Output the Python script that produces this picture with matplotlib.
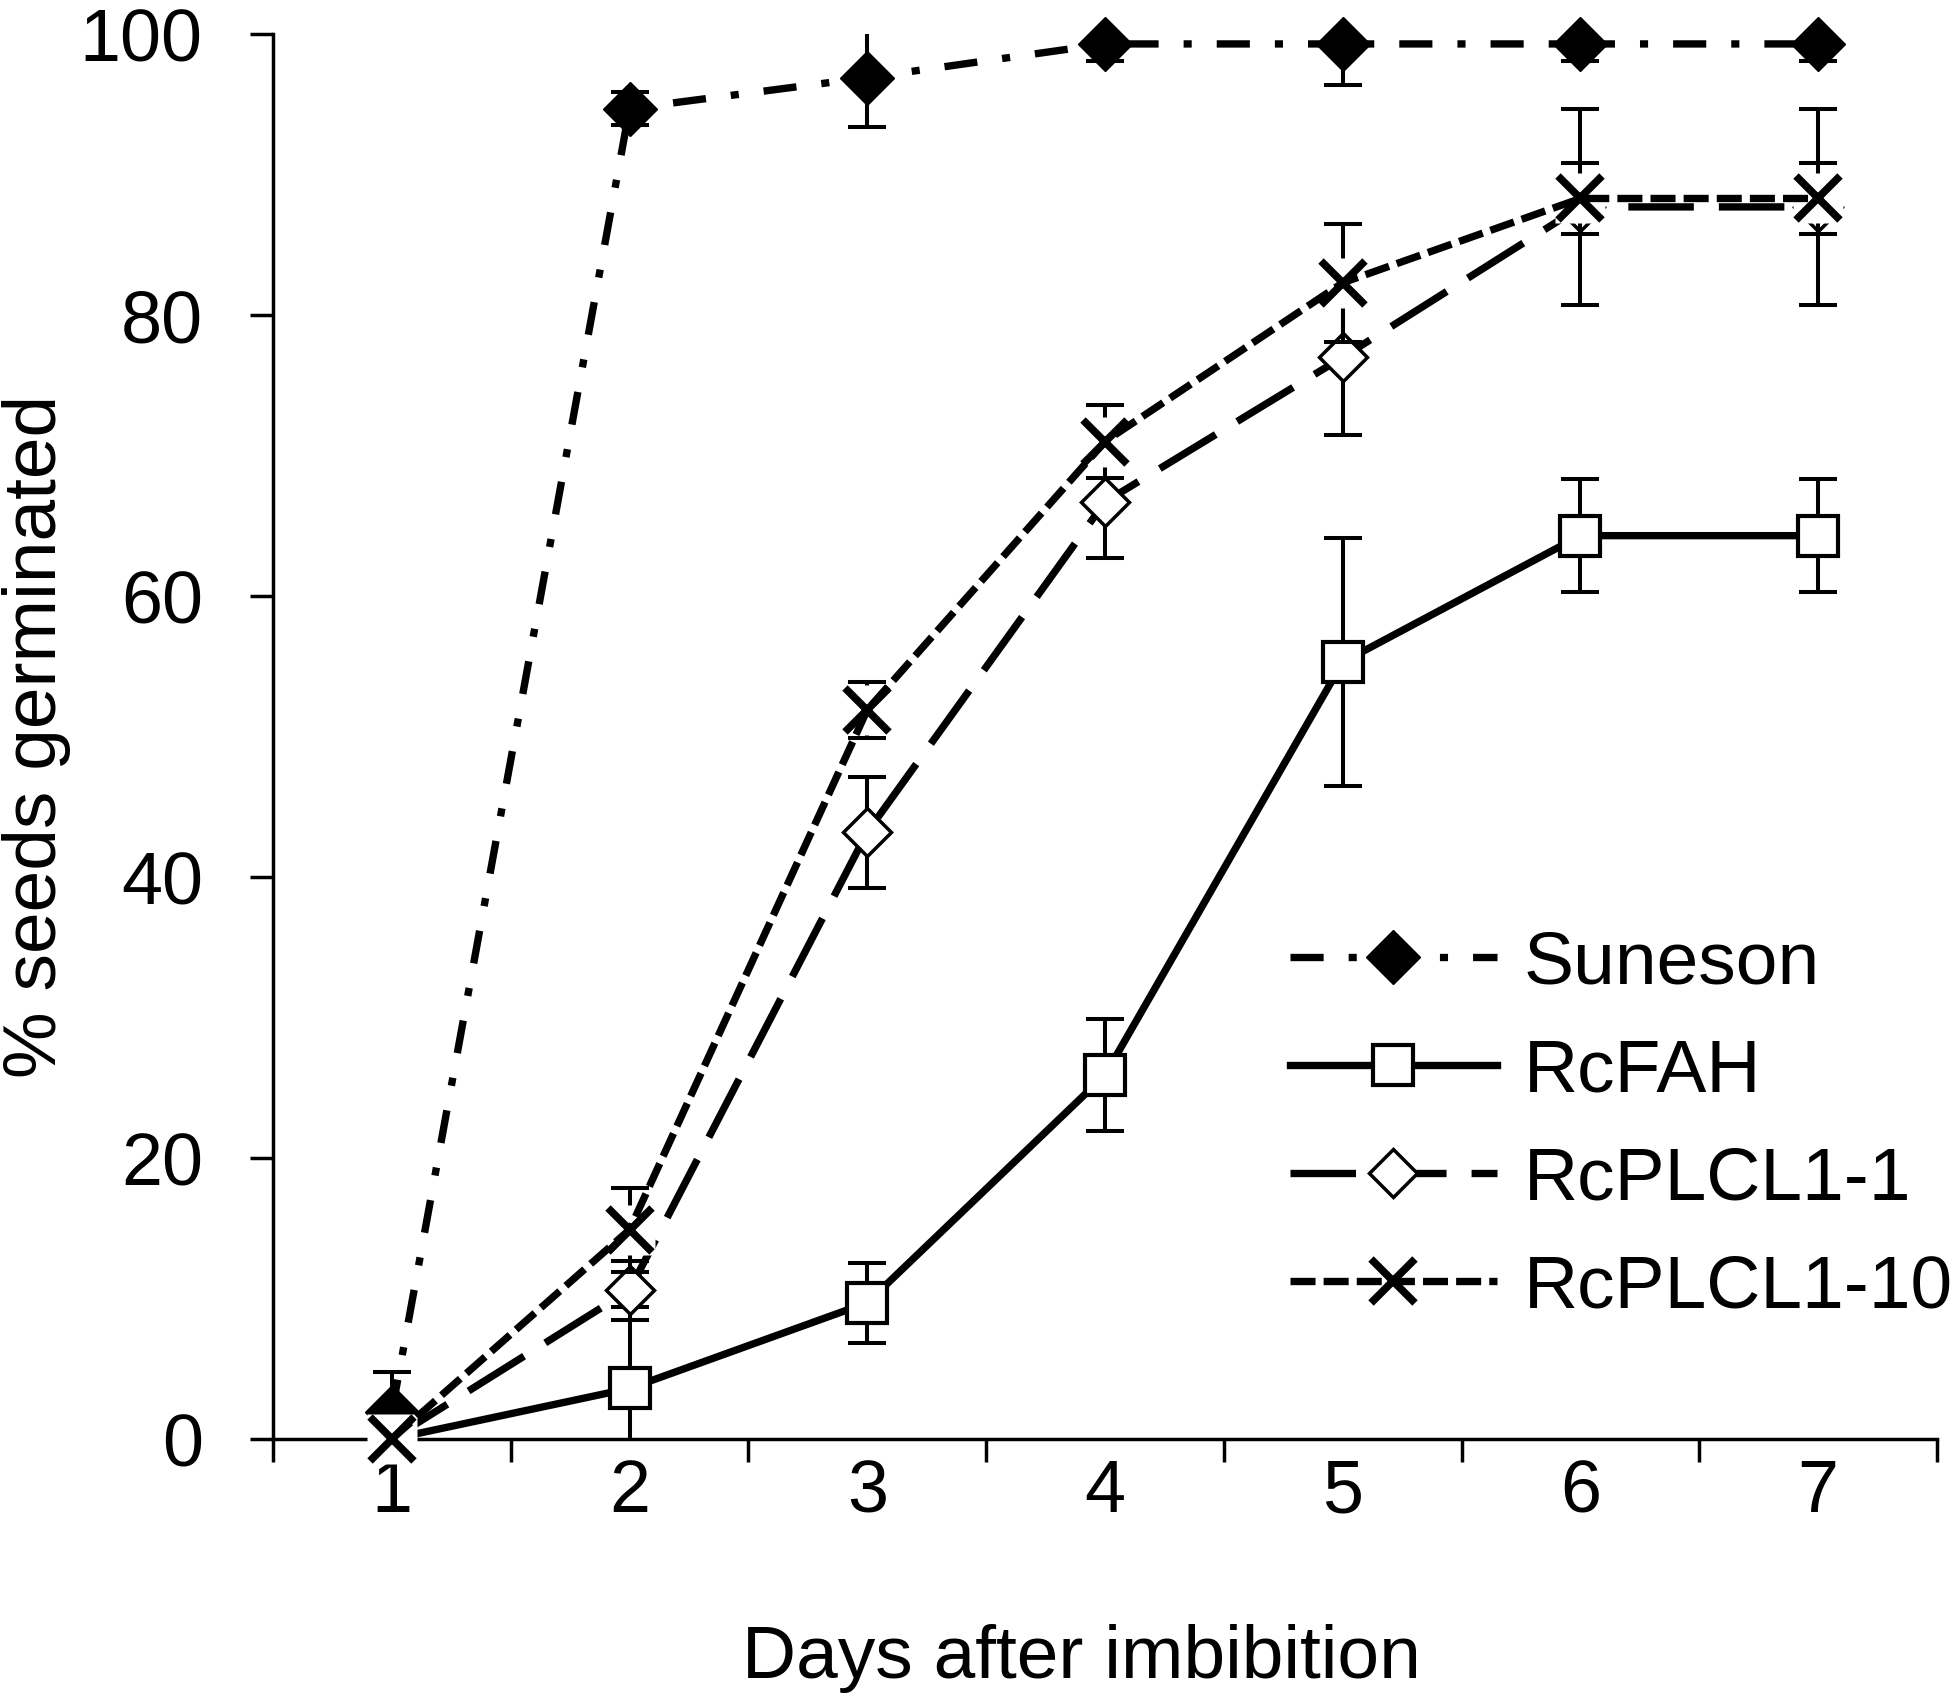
import matplotlib
matplotlib.use("Agg")
import matplotlib.pyplot as plt

plt.rcParams['font.family'] = ['Liberation Sans', 'DejaVu Sans']

days = [1, 2, 3, 4, 5, 6, 7]
series_names = ['Suneson', 'RcFAH', 'RcPLCL1-1', 'RcPLCL1-10']

suneson = [1.9, 94.7, 96.9, 99.3, 99.3, 99.3, 99.3]
suneson_err = [2.9, 1.15, 3.5, 1.2, 2.9, 1.2, 1.2]

rcfah = [0, 3.6, 9.7, 25.9, 55.3, 64.3, 64.3]
rcfah_err = [0, 5.8, 2.85, 4.0, 8.8, 4.0, 4.0]

plcl1_1 = [0, 10.6, 43.2, 66.7, 77.0, 87.7, 87.7]
plcl1_1_err = [0, 2.1, 3.95, 4.0, 5.5, 7.0, 7.0]

plcl1_10 = [0, 14.9, 51.9, 71.0, 82.3, 88.3, 88.3]
plcl1_10_err = [0, 3.0, 2.0, 2.6, 4.2, 2.5, 2.5]

fig = plt.figure(figsize=(19.58, 17.05), dpi=100)
ax = fig.add_axes([0.1394, 0.156, 0.8499, 0.824])

lw = 5.3
err_kw = dict(fmt='none', ecolor='black', elinewidth=2.9, capsize=13.5, capthick=2.9)

# Suneson
ax.errorbar(days, suneson, yerr=suneson_err, zorder=2, **err_kw)
ax.plot(days, suneson, color='black', lw=lw, ls=(0, (4.5, 3.4, 1.1, 3.4)),
        marker='D', ms=27, mfc='black', mec='black', mew=1,
        label=series_names[0], zorder=3, clip_on=False)

# RcFAH
ax.errorbar(days, rcfah, yerr=rcfah_err, zorder=4, **err_kw)
ax.plot(days, rcfah, color='black', lw=lw, ls='-',
        marker='s', ms=29, mfc='white', mec='black', mew=3,
        label=series_names[1], zorder=5, clip_on=False)

# RcPLCL1-1
ax.errorbar(days, plcl1_1, yerr=plcl1_1_err, zorder=6, **err_kw)
ax.plot(days, plcl1_1, color='black', lw=lw, ls=(0, (8.9, 3.4)),
        marker='D', ms=24, mfc='white', mec='black', mew=2.5,
        label=series_names[2], zorder=7, clip_on=False)

# RcPLCL1-10 (x markers sit on a white box, like the original)
ax.errorbar(days, plcl1_10, yerr=plcl1_10_err, zorder=8, **err_kw)
ax.plot(days, plcl1_10, ls='none', marker='s', ms=36, mfc='white', mec='none',
        zorder=8.5, clip_on=False)
ax.plot(days, plcl1_10, color='black', lw=lw, ls=(0, (3.4, 1.1)),
        marker='x', ms=32, mec='black', mew=5.5,
        label=series_names[3], zorder=9, clip_on=False)

ax.set_xlim(0.5, 7.5)
ax.set_ylim(0, 100)

ax.set_xticks([0.5 + i for i in range(8)])
ax.set_xticklabels([])
ax.set_xticks(days, minor=True)
ax.set_xticklabels([str(d) for d in days], minor=True)
ax.tick_params(axis='x', which='major', direction='out', length=16.5, width=2.5)
ax.tick_params(axis='x', which='minor', length=0, pad=14, labelsize=53)
ax.set_yticks(range(0, 101, 20))
ax.tick_params(axis='y', direction='out', length=16.5, width=2.5, pad=34, labelsize=53)

for s in ['top', 'right']:
    ax.spines[s].set_visible(False)
for s in ['left', 'bottom']:
    ax.spines[s].set_linewidth(2.5)

ax.set_xlabel('Days after imbibition', fontsize=54)
ax.xaxis.set_label_coords(0.4856, -0.132)
ax.set_ylabel('% seeds germinated', fontsize=54, labelpad=6)

ax.legend(loc='upper left', bbox_to_anchor=(0.659, 0.455),
          bbox_transform=fig.transFigure, frameon=False, fontsize=54,
          handlelength=2.75, handletextpad=0.36, labelspacing=0.52,
          borderpad=0, borderaxespad=0)

fig.savefig('out.png', dpi=100)
